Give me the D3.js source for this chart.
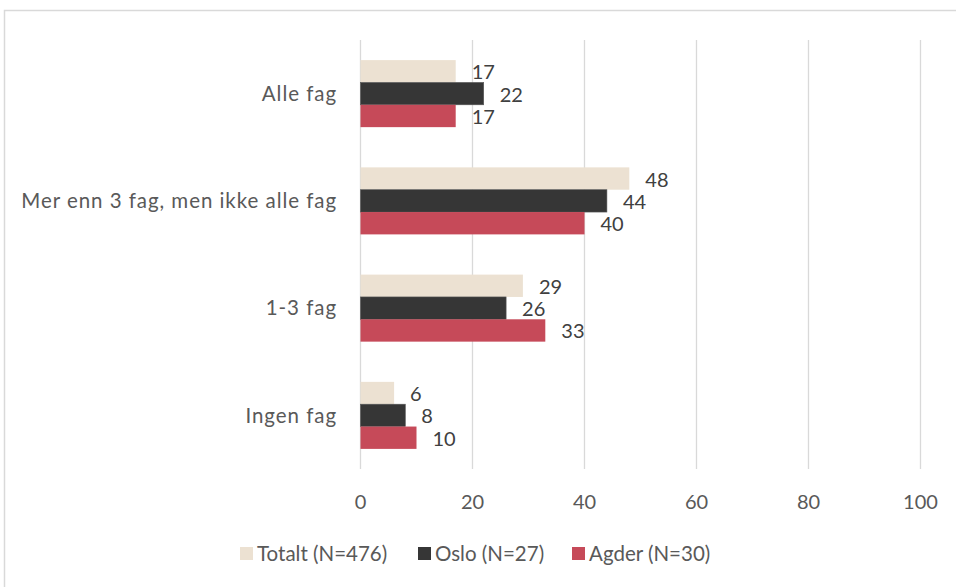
<!DOCTYPE html>
<html>
<head>
  <meta charset="utf-8">
  <title>Fag</title>
  <script src="https://d3js.org/d3.v7.min.js"></script>
  <style>
    body { margin: 0; background: #fff; }
    svg text { font-family: Lato, "Open Sans", sans-serif; }
  </style>
</head>
<body>
  <svg width="956" height="587"></svg>

  <script>
    // Data
    const categories = ["Alle fag", "Mer enn 3 fag, men ikke alle fag", "1-3 fag", "Ingen fag"];
    const seriesNames = ["Totalt (N=476)", "Oslo (N=27)", "Agder (N=30)"];
    const totalt = [17, 48, 29, 6];
    const oslo = [22, 44, 26, 8];
    const agder = [17, 40, 33, 10];
    const xTicks = [0, 20, 40, 60, 80, 100];
    const colors = ["#ece1d2", "#363636", "#c64a59"];

    const series = [totalt, oslo, agder];
    const rows = categories.map((c, i) => ({
      cat: c,
      vals: series.map((s, j) => ({ key: seriesNames[j], value: s[i], idx: j }))
    }));

    const svg = d3.select("svg");

    // Chart frame
    svg.append("rect")
      .attr("x", 4.5).attr("y", 10.5)
      .attr("width", 1000).attr("height", 1000)
      .attr("fill", "none").attr("stroke", "#d9d9d9").attr("stroke-width", 1.5);

    const x = d3.scaleLinear().domain([0, 100]).range([360.5, 920.5]);
    const y = d3.scaleBand().domain(categories).range([40, 469]).paddingInner(0.375).paddingOuter(0.1875);
    const yInner = d3.scaleBand().domain(seriesNames).range([0, y.bandwidth()]);

    // Gridlines
    svg.append("g").selectAll("line")
      .data(xTicks)
      .join("line")
      .attr("x1", d => x(d)).attr("x2", d => x(d))
      .attr("y1", 40).attr("y2", 469)
      .attr("stroke", "#d9d9d9").attr("stroke-width", 1.3);

    // X axis labels
    svg.append("g").selectAll("text")
      .data(xTicks)
      .join("text")
      .attr("x", d => x(d)).attr("y", 502)
      .attr("dy", "0.35em")
      .attr("text-anchor", "middle")
      .attr("fill", "#595959")
      .style("font-size", "20px")
      .text(d => d);

    // Category labels
    svg.append("g").selectAll("text")
      .data(categories)
      .join("text")
      .attr("x", 337).attr("y", d => y(d) + y.bandwidth() / 2)
      .attr("dy", "0.35em")
      .attr("text-anchor", "end")
      .attr("fill", "#595959")
      .style("font-size", "20.5px")
      .style("letter-spacing", "0.95px")
      .text(d => d);

    // Bars
    const groups = svg.append("g").selectAll("g")
      .data(rows)
      .join("g")
      .attr("transform", d => `translate(0,${y(d.cat)})`);

    groups.selectAll("rect")
      .data(d => d.vals)
      .join("rect")
      .attr("x", x(0))
      .attr("y", d => yInner(d.key))
      .attr("width", d => x(d.value) - x(0))
      .attr("height", yInner.bandwidth())
      .attr("fill", d => colors[d.idx])
      .attr("stroke", d => d.idx === 1 ? "#555" : "none")
      .attr("stroke-width", 0.6);

    // Value labels
    groups.selectAll("text")
      .data(d => d.vals)
      .join("text")
      .attr("x", d => x(d.value) + 16)
      .attr("y", d => yInner(d.key) + yInner.bandwidth() / 2 + 1)
      .attr("dy", "0.35em")
      .attr("fill", "#404040")
      .style("font-size", "20px")
      .text(d => d.value);

    // Legend
    const legendX = [240, 418, 572];
    const legend = svg.append("g").selectAll("g")
      .data(seriesNames)
      .join("g")
      .attr("transform", (d, i) => `translate(${legendX[i]},547)`);

    legend.append("rect")
      .attr("width", 13).attr("height", 13)
      .attr("fill", (d, i) => colors[i]);

    legend.append("text")
      .attr("x", 17).attr("y", 7)
      .attr("dy", "0.35em")
      .attr("fill", "#595959")
      .style("font-size", "20.5px")
      .text(d => d);
  </script>
</body>
</html>
